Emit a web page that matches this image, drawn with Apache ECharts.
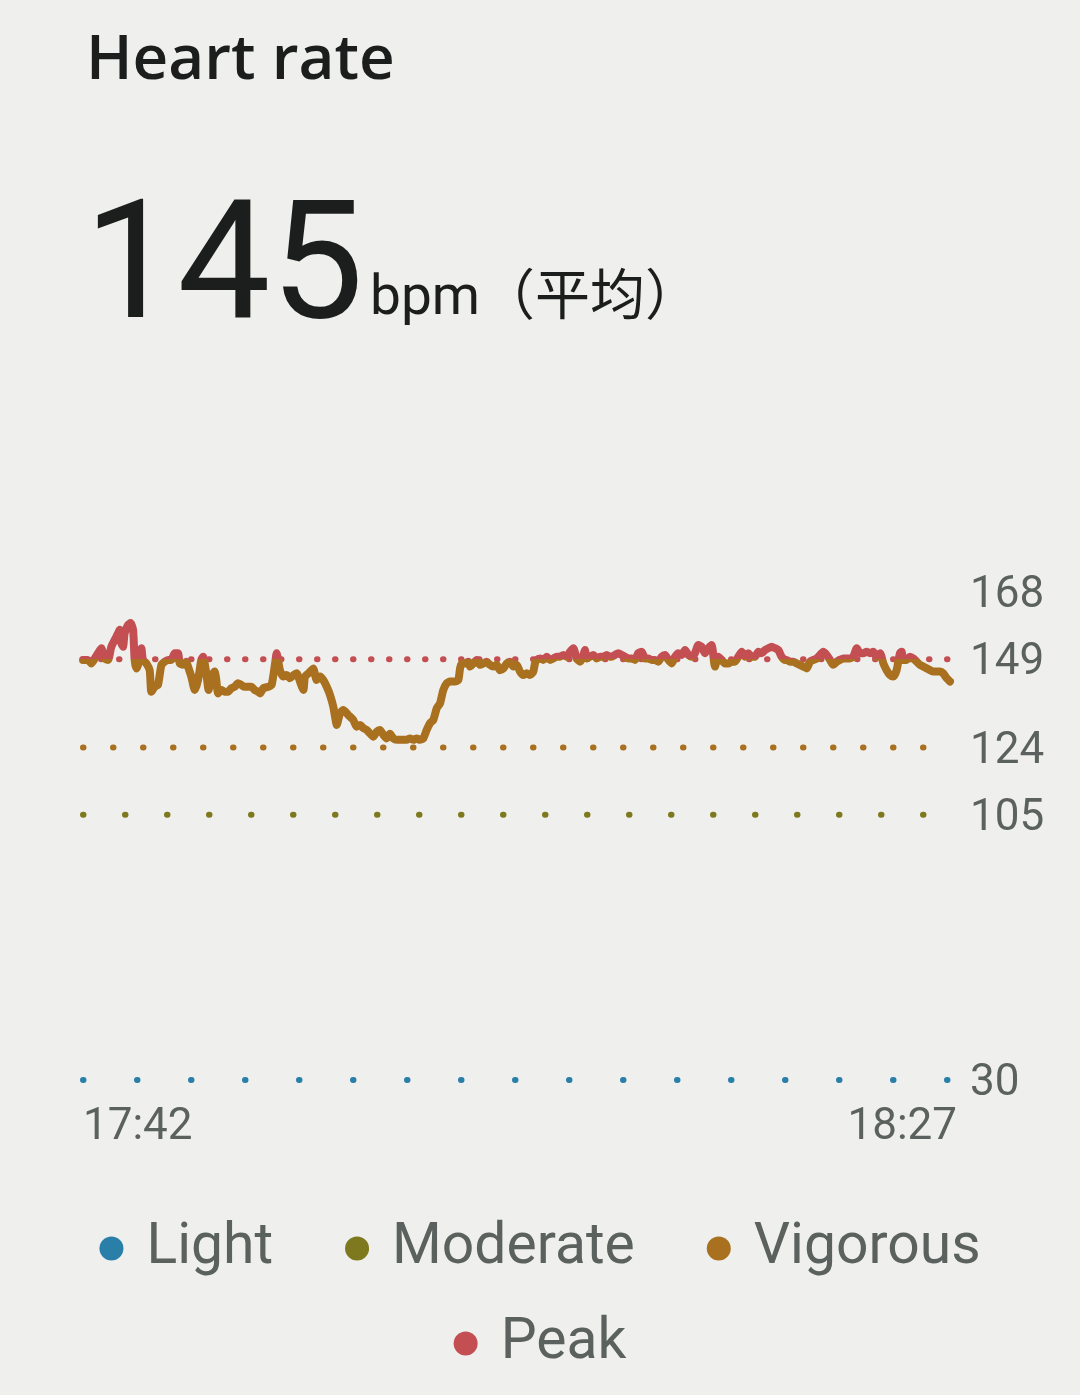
<!DOCTYPE html>
<html>
<head>
<meta charset="utf-8">
<script src="https://cdn.jsdelivr.net/npm/echarts@6/dist/echarts.min.js"></script>
<style>
  html, body { margin: 0; padding: 0; background: #eff0ee; }
  #chart { width: 1080px; height: 1395px; }
</style>
</head>
<body>
<div id="chart"></div>
<script>
// ---- Data ----
const titleText = 'Heart rate';
const avgValue = '145';
const avgUnit = 'bpm（平均）';
const xTickLabels = ['17:42', '18:27'];   // start / end of the 45-minute session
const xMinutes = 45;
const yTickValues = [30, 105, 124, 149, 168];
const zoneNames = ['Light', 'Moderate', 'Vigorous', 'Peak'];
const zoneThresholds = [30, 105, 124, 149];
const zoneColors = ['#2a7fa9', '#7e791e', '#a8701f', '#c44f53'];

// minutes since 17:42
const hrMinutes = [
  0.00,0.26,0.43,0.61,0.78,0.95,1.12,1.30,1.47,1.64,1.82,1.90,1.99,2.08,2.16,2.34,2.47,2.60,2.68,2.77,
  2.86,3.03,3.11,3.29,3.46,3.55,3.72,3.89,4.07,4.24,4.41,4.58,4.76,4.93,5.02,5.19,5.36,5.45,5.62,5.80,
  5.97,6.14,6.23,6.40,6.52,6.66,6.83,6.92,7.01,7.18,7.35,7.53,7.70,7.87,8.04,8.22,8.39,8.56,8.74,8.91,
  9.08,9.19,9.36,9.62,9.79,9.97,10.05,10.22,10.40,10.57,10.74,10.92,11.09,11.26,11.44,11.52,11.70,11.87,11.95,12.13,
  12.30,12.47,12.65,12.82,12.99,13.08,13.17,13.34,13.51,13.77,14.03,14.20,14.38,14.55,14.72,14.90,15.07,15.24,15.41,15.59,
  15.76,15.93,16.11,16.28,16.54,16.80,16.97,17.15,17.32,17.49,17.66,17.84,18.01,18.18,18.36,18.53,18.70,18.88,19.05,19.31,
  19.48,19.57,19.65,19.83,20.00,20.09,20.26,20.43,20.61,20.78,20.95,21.12,21.30,21.47,21.64,21.82,21.99,22.16,22.34,22.51,
  22.68,22.85,23.03,23.20,23.37,23.46,23.55,23.72,23.89,24.07,24.24,24.41,24.58,24.76,24.93,25.10,25.28,25.45,25.62,25.80,
  25.97,26.05,26.14,26.31,26.49,26.66,26.83,27.01,27.18,27.35,27.44,27.61,27.78,27.96,28.13,28.30,28.48,28.65,28.82,29.00,
  29.17,29.34,29.52,29.69,29.86,30.03,30.21,30.38,30.55,30.73,30.90,31.07,31.25,31.42,31.59,31.76,31.94,32.11,32.28,32.46,
  32.63,32.80,32.98,33.15,33.32,33.49,33.67,33.84,34.01,34.19,34.36,34.53,34.71,34.88,35.05,35.22,35.40,35.57,35.74,35.92,
  36.09,36.26,36.44,36.52,36.69,36.87,37.04,37.21,37.39,37.56,37.73,37.91,38.08,38.25,38.42,38.60,38.77,38.94,39.12,39.29,
  39.46,39.64,39.81,39.98,40.16,40.33,40.50,40.67,40.85,41.02,41.19,41.37,41.54,41.71,41.89,42.06,42.23,42.40,42.49,42.58,
  42.75,42.92,43.10,43.27,43.44,43.62,43.79,43.96,44.13,44.31,44.48,44.65,44.83,45.00
];
const hrBpm = [
  148.8,148.8,147.8,149.2,150.7,152.1,149.2,148.8,152.5,154.4,156.3,157.3,153.5,152.5,156.3,158.7,159.2,157.3,148.8,146.4,
  147.4,152.1,148.8,147.8,145.9,139.8,141.2,141.7,147.4,148.3,148.8,148.8,150.7,150.7,147.8,147.4,148.3,146.9,144.1,140.3,
  143.1,148.8,149.7,145.0,140.3,144.1,145.5,143.1,139.3,140.3,139.8,139.8,140.8,141.2,142.2,141.7,141.2,141.2,141.2,140.3,
  139.8,139.3,140.8,141.2,141.7,147.8,150.7,145.9,144.1,144.5,143.6,144.5,145.0,142.7,140.3,144.1,145.0,145.9,146.4,143.1,
  144.1,143.1,141.2,138.9,135.6,132.8,130.4,133.7,134.6,133.2,131.8,129.9,130.4,129.5,129.0,128.0,127.1,128.5,129.0,127.6,
  126.6,127.9,126.6,126.2,126.2,126.2,126.6,126.2,126.6,126.2,126.6,129.0,130.9,131.8,135.1,136.5,140.3,142.2,142.7,142.7,
  143.1,146.4,147.8,147.8,148.3,146.9,147.8,148.8,147.4,147.8,148.3,147.4,146.9,147.4,145.9,146.4,147.8,148.3,146.9,147.4,
  145.5,144.5,145.0,144.5,145.5,147.8,148.8,149.2,148.8,149.7,148.8,149.2,149.7,149.7,150.2,149.7,151.1,152.1,149.2,148.3,
  150.2,151.6,149.2,149.7,150.2,149.2,149.7,149.7,150.2,149.7,149.7,150.2,150.7,150.2,149.7,149.2,149.2,148.8,150.7,151.1,
  149.2,149.2,148.8,148.8,148.3,149.7,150.2,148.8,147.8,149.7,150.7,150.2,151.6,150.2,149.7,150.7,153.0,152.5,150.7,152.1,
  153.0,146.9,149.7,148.8,147.8,147.8,148.3,148.3,149.7,151.1,149.7,150.7,149.7,149.7,151.1,150.7,151.6,152.1,152.5,152.1,
  151.6,149.7,148.8,148.8,148.3,148.3,147.8,147.4,146.9,146.4,148.3,148.8,149.2,150.2,151.1,150.2,148.8,147.4,148.3,148.8,
  149.2,149.2,149.2,149.7,152.1,150.7,150.7,151.1,150.7,151.1,149.7,150.7,147.8,145.9,144.5,144.1,145.9,150.7,151.1,148.8,
  148.8,149.7,149.2,148.3,147.4,146.9,146.4,145.9,145.5,145.5,145.5,145.0,143.6,142.7
];

// ---- Chart ----
const dotGaps = [54, 42, 30, 18];
const hrData = hrMinutes.map((m, i) => [m, hrBpm[i]]);
const textColor = '#5b615e';
const font = 'Roboto, "Noto Sans", sans-serif';

const zoneSeries = zoneNames.map((name, i) => ({
  name: name,
  type: 'line',
  data: [[0, zoneThresholds[i]], [xMinutes, zoneThresholds[i]]],
  symbol: 'none',
  silent: true,
  z: 1,
  itemStyle: { color: zoneColors[i] },
  lineStyle: { color: zoneColors[i], width: 6, type: [0.5, dotGaps[i] - 0.5], cap: 'round' }
}));

const legendText = { fontSize: 57, color: textColor, fontFamily: font, padding: [0, 0, 0, 18] };

const chart = echarts.init(document.getElementById('chart'), null, { renderer: 'canvas' });
chart.setOption({
  backgroundColor: '#eff0ee',
  animation: false,
  graphic: [
    { type: 'text', left: 86, top: 30, style: { text: titleText, font: '600 62px "Open Sans", Roboto, sans-serif', fill: '#1c1e1d' } },
    { type: 'text', left: 84, top: 192, style: { text: avgValue, font: '400 166px ' + font, fill: '#1c1e1d' } },
    { type: 'text', left: 370, top: 273, style: { text: avgUnit, font: '400 55px Roboto, "Noto Sans CJK SC", sans-serif', fill: '#1c1e1d' } }
  ],
  grid: { left: 83, right: 130, top: 592, bottom: 315, containLabel: false },
  xAxis: {
    type: 'value', min: 0, max: xMinutes, interval: xMinutes,
    axisLine: { show: false }, axisTick: { show: false }, splitLine: { show: false },
    axisLabel: {
      fontSize: 44, color: textColor, fontFamily: font, margin: 26,
      alignMinLabel: 'left', alignMaxLabel: 'right', padding: [0, -7, 0, 0],
      formatter: v => (v === 0 ? xTickLabels[0] : v === xMinutes ? xTickLabels[1] : '')
    }
  },
  yAxis: {
    type: 'value', position: 'right', min: 30, max: 168,
    axisLine: { show: false }, axisTick: { show: false }, splitLine: { show: false },
    axisLabel: {
      customValues: yTickValues, margin: 20,
      formatter: v => '{t|' + v + '}',
      rich: { t: { fontSize: 44, color: textColor, fontFamily: font, padding: [8, 0, 0, 0] } }
    }
  },
  visualMap: {
    show: false, type: 'piecewise', seriesIndex: 0, dimension: 1,
    pieces: [{ gte: 0, lt: 149, color: zoneColors[2] }, { gte: 149, lte: 250, color: zoneColors[3] }],
    outOfRange: { color: zoneColors[2] }
  },
  legend: [
    {
      data: ['Light', 'Moderate', 'Vigorous'], left: 'center', top: 1215,
      icon: 'circle', itemWidth: 24, itemHeight: 24, itemGap: 72,
      itemStyle: { borderWidth: 0 }, selectedMode: false, textStyle: legendText
    },
    {
      data: ['Peak'], left: 'center', top: 1310,
      icon: 'circle', itemWidth: 24, itemHeight: 24,
      itemStyle: { borderWidth: 0 }, selectedMode: false, textStyle: legendText
    }
  ],
  series: [
    {
      name: 'HR', type: 'line', data: hrData, symbol: 'none', smooth: 0.2, z: 5,
      lineStyle: { width: 8, cap: 'round', join: 'round' }
    }
  ].concat(zoneSeries)
});
</script>
</body>
</html>
